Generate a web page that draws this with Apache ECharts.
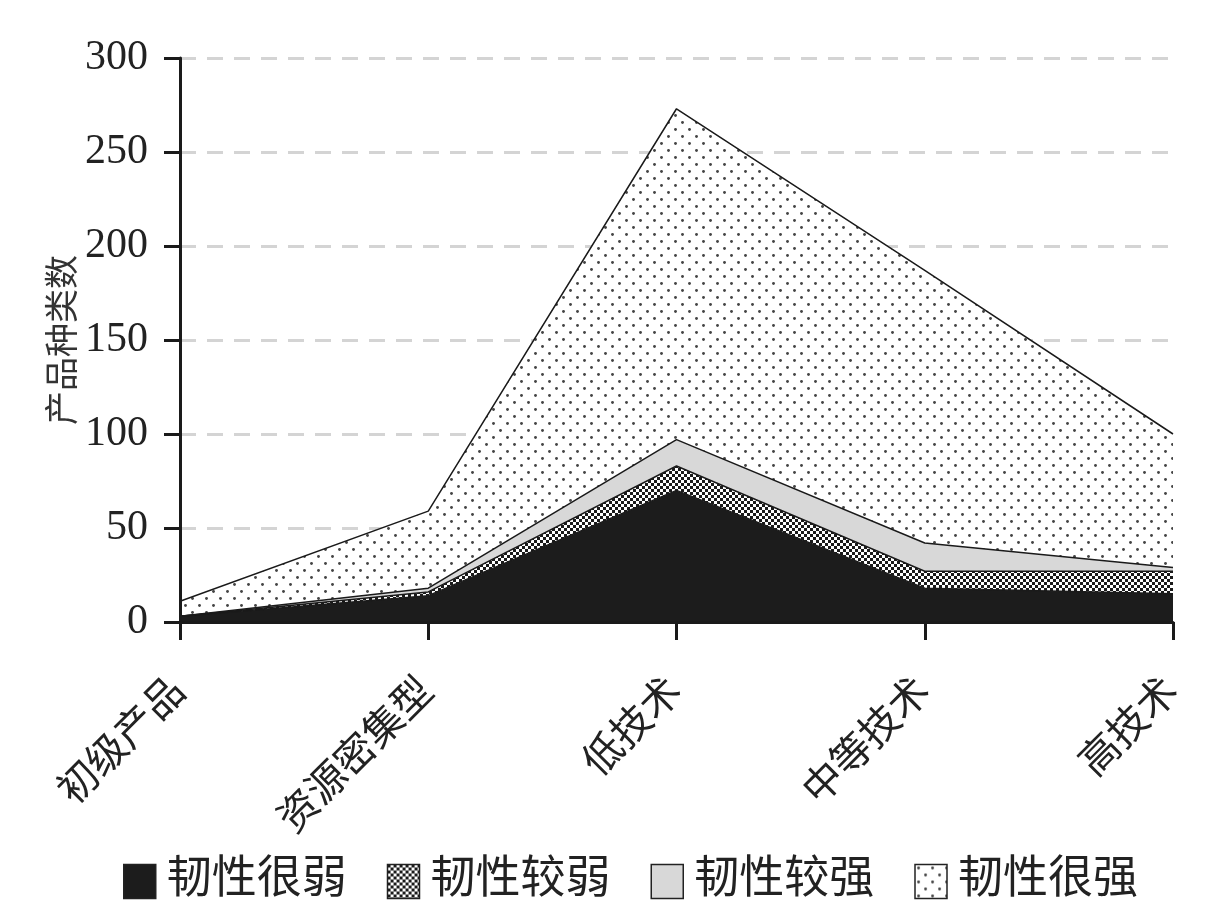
<!DOCTYPE html>
<html>
<head>
<meta charset="utf-8">
<script src="https://cdn.jsdelivr.net/npm/echarts@6/dist/echarts.min.js"></script>
<style>
html,body{margin:0;padding:0;background:#fff;}
#main{width:1210px;height:913px;}
</style>
</head>
<body>
<div id="main"></div>
<script>
const categories = ['初级产品', '资源密集型', '低技术', '中等技术', '高技术'];
const seriesNames = ['韧性很弱', '韧性较弱', '韧性较强', '韧性很强'];
const veryWeak = [3, 14, 70, 18, 15];
const weak = [0, 2, 13, 9, 12];
const strong = [0, 2, 14, 15, 2];
const veryStrong = [8, 41, 176, 145, 71];
const yTicks = [0, 50, 100, 150, 200, 250, 300];

function makeChecker() {
  const c = document.createElement('canvas');
  c.width = 6; c.height = 6;
  const g = c.getContext('2d');
  g.fillStyle = '#ffffff'; g.fillRect(0, 0, 6, 6);
  g.fillStyle = '#1a1a1a';
  g.fillRect(0, 0, 3, 3); g.fillRect(3, 3, 3, 3);
  return { image: c, repeat: 'repeat' };
}
function makeDots() {
  const c = document.createElement('canvas');
  c.width = 14; c.height = 14;
  const g = c.getContext('2d');
  g.fillStyle = '#ffffff'; g.fillRect(0, 0, 14, 14);
  g.fillStyle = '#444444';
  g.beginPath(); g.arc(3.5, 3.5, 1.45, 0, Math.PI * 2); g.fill();
  g.beginPath(); g.arc(10.5, 10.5, 1.45, 0, Math.PI * 2); g.fill();
  return { image: c, repeat: 'repeat' };
}

const fills = ['#1c1c1c', makeChecker(), '#d8d8d8', makeDots()];
const dataSets = [veryWeak, weak, strong, veryStrong];

const chart = echarts.init(document.getElementById('main'));
const fontCN = '"Liberation Serif", "Noto Sans CJK SC", serif';

chart.setOption({
  backgroundColor: '#ffffff',
  animation: false,
  grid: { left: 180, right: 37, top: 58, bottom: 291, containLabel: false },
  legend: {
    data: seriesNames,
    bottom: 4,
    left: 118,
    icon: 'rect',
    itemWidth: 32,
    itemHeight: 34,
    itemGap: 40,
    itemStyle: { borderColor: '#222', borderWidth: 1.5 },
    textStyle: { fontSize: 45, color: '#222', fontFamily: fontCN, padding: [0, 0, 0, 6] }
  },
  xAxis: {
    type: 'category',
    data: categories,
    boundaryGap: false,
    axisLine: { lineStyle: { color: '#1a1a1a', width: 3 } },
    axisTick: { show: true, length: 18, lineStyle: { color: '#1a1a1a', width: 3 } },
    axisLabel: { rotate: 45, margin: 64, fontSize: 40, color: '#222', fontFamily: fontCN, interval: 0 },
    splitLine: { show: false },
    z: 10
  },
  yAxis: [{
    type: 'value',
    min: 0,
    max: 300,
    interval: 50,
    axisLine: { show: false },
    axisTick: { show: false },
    axisLabel: { show: false },
    splitLine: { show: true, lineStyle: { color: '#d4d4d4', width: 3, type: [16, 11] } },
    z: 0
  }, {
    type: 'value',
    position: 'left',
    min: 0,
    max: 300,
    interval: 50,
    name: '产品种类数',
    nameLocation: 'middle',
    nameRotate: 90,
    nameGap: 98,
    nameMoveOverlap: false,
    nameTextStyle: { fontSize: 34, color: '#333', fontFamily: fontCN },
    axisLine: { show: true, lineStyle: { color: '#1a1a1a', width: 3 } },
    axisTick: { show: true, length: 16, lineStyle: { color: '#1a1a1a', width: 3 } },
    axisLabel: {
      margin: 32, fontSize: 42, color: '#222', fontFamily: '"Liberation Serif", serif',
      formatter: function (v) { return yTicks.indexOf(v) >= 0 ? String(v) : ''; }
    },
    splitLine: { show: false },
    z: 10
  }],
  series: seriesNames.map(function (name, i) {
    return {
      name: name,
      type: 'line',
      stack: 'total',
      yAxisIndex: 0,
      data: dataSets[i],
      symbol: 'none',
      smooth: false,
      itemStyle: { color: fills[i], borderColor: '#222', borderWidth: 1.5 },
      lineStyle: { color: '#1a1a1a', width: 1.5 },
      areaStyle: { color: fills[i], opacity: 1 },
      z: 2
    };
  })
});
</script>
</body>
</html>
